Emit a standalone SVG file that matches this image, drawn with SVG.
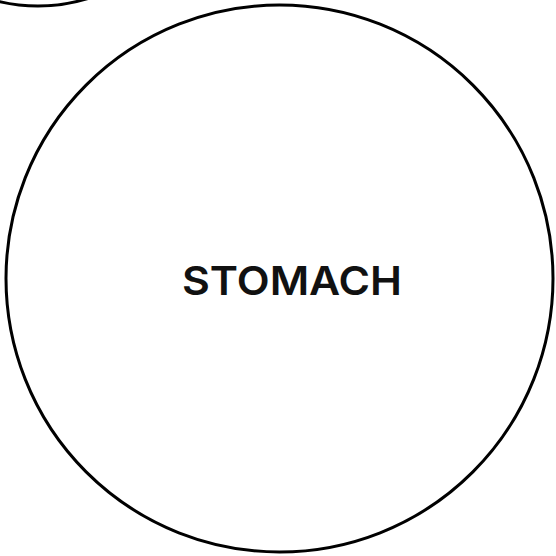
<svg xmlns="http://www.w3.org/2000/svg" width="556" height="556" viewBox="0 0 556 556">
<style>
.node{fill:#fff;stroke:#000;stroke-width:3}
.lbl{font-family:Inter,"Open Sans","Liberation Sans",sans-serif;font-weight:600;font-size:40px;fill:#111}
</style>
<rect width="556" height="556" fill="#fff"/>
<g id="connectors"></g>
<g id="node-top"><circle class="node" cx="38" cy="-164" r="170"/></g>
<g id="node-stomach">
<circle class="node" cx="279.5" cy="278.5" r="273.5"/>
<text class="lbl" x="292" y="295" text-anchor="middle" textLength="220" lengthAdjust="spacingAndGlyphs">STOMACH</text>
</g>
</svg>
